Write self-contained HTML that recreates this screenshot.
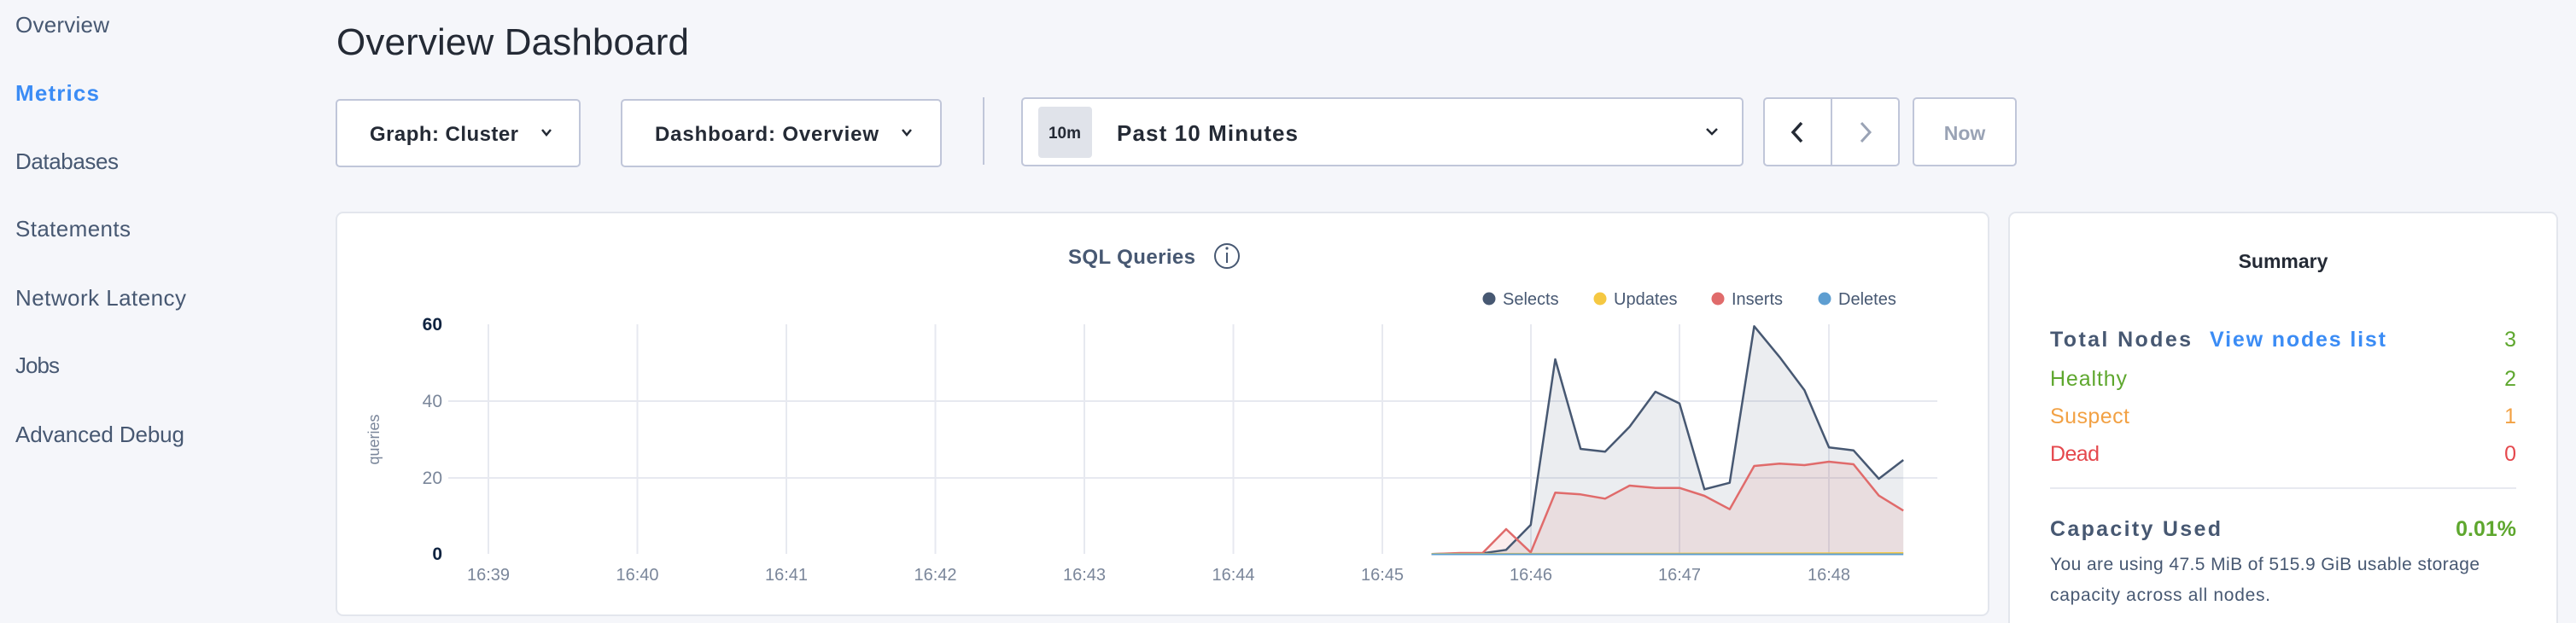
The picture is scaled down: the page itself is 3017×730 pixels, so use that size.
<!DOCTYPE html>
<html><head><meta charset="utf-8"><style>
html,body{margin:0;padding:0;background:#f5f6fa;}
svg{display:block;font-family:"Liberation Sans",sans-serif;}
</style></head><body>
<svg width="3017" height="730" viewBox="0 0 3017 730" xmlns="http://www.w3.org/2000/svg">
<rect width="3017" height="730" fill="#f5f6fa"/>
<g font-size="26" fill="#475872">
<text x="18" y="38" textLength="110">Overview</text>
<text x="18" y="118" font-weight="bold" fill="#3b8cf5" textLength="98">Metrics</text>
<text x="18" y="198" textLength="121">Databases</text>
<text x="18" y="277" textLength="135">Statements</text>
<text x="18" y="358" textLength="200">Network Latency</text>
<text x="18" y="437" textLength="52">Jobs</text>
<text x="18" y="518" textLength="198">Advanced Debug</text>
</g>
<text x="394" y="64" font-size="44" fill="#242a35" textLength="413">Overview Dashboard</text>
<g fill="#fff" stroke="#c0c6d9" stroke-width="2">
<rect x="394" y="117" width="285" height="78" rx="4"/>
<rect x="728" y="117" width="374" height="78" rx="4"/>
<rect x="1197" y="115" width="844" height="79" rx="4"/>
<rect x="2066" y="115" width="158" height="79" rx="4"/>
<rect x="2241" y="115" width="120" height="79" rx="4"/>
</g>
<line x1="1152" y1="114" x2="1152" y2="193" stroke="#c0c6d9" stroke-width="2"/>
<line x1="2145" y1="115" x2="2145" y2="194" stroke="#c0c6d9" stroke-width="2"/>
<g font-size="24" font-weight="bold" fill="#242a35">
<text x="433" y="165" textLength="174">Graph: Cluster</text>
<text x="767" y="165" textLength="262">Dashboard: Overview</text>
<text x="1308" y="165" font-size="26" textLength="212">Past 10 Minutes</text>
</g>
<g fill="none" stroke="#242a35" stroke-width="2.5">
<polyline points="635,152 640,158 645,152"/>
<polyline points="1057,152 1062,158 1067,152"/>
<polyline points="1999,151 2005,157 2011,151"/>
<polyline points="2110,144 2100,155 2110,166" stroke-width="3.5"/>
<polyline points="2180,144 2190,155 2180,166" stroke="#9aa3b5" stroke-width="3"/>
</g>
<rect x="1216" y="125" width="63" height="60" rx="4" fill="#e0e3ea"/>
<text x="1247" y="162" font-size="19" font-weight="bold" fill="#242a35" text-anchor="middle">10m</text>
<text x="2301" y="164" font-size="23" font-weight="bold" fill="#9aa3b5" text-anchor="middle">Now</text>
<rect x="394" y="249" width="1935" height="472" rx="8" fill="#fff" stroke="#e3e6ed" stroke-width="2"/>
<text x="1251" y="309" font-size="24" font-weight="bold" fill="#475872" textLength="149">SQL Queries</text>
<circle cx="1437" cy="300" r="14" fill="none" stroke="#475872" stroke-width="2"/>
<line x1="1437" y1="296" x2="1437" y2="308" stroke="#475872" stroke-width="2"/>
<circle cx="1437" cy="291" r="1.6" fill="#475872"/>
<g font-size="20" fill="#475872">
<circle cx="1744" cy="350" r="7.5" fill="#475872"/><text x="1760" y="357">Selects</text>
<circle cx="1874" cy="350" r="7.5" fill="#f5c842"/><text x="1890" y="357">Updates</text>
<circle cx="2012" cy="350" r="7.5" fill="#e06b6b"/><text x="2028" y="357">Inserts</text>
<circle cx="2137" cy="350" r="7.5" fill="#5e9ed1"/><text x="2153" y="357">Deletes</text>
</g>
<g stroke="#e7e9f0" stroke-width="2">
<line x1="525" y1="470" x2="2269" y2="470"/>
<line x1="525" y1="560" x2="2269" y2="560"/>
<line x1="572" y1="380" x2="572" y2="649"/>
<line x1="746.5" y1="380" x2="746.5" y2="649"/>
<line x1="921" y1="380" x2="921" y2="649"/>
<line x1="1095.5" y1="380" x2="1095.5" y2="649"/>
<line x1="1270" y1="380" x2="1270" y2="649"/>
<line x1="1444.5" y1="380" x2="1444.5" y2="649"/>
<line x1="1619" y1="380" x2="1619" y2="649"/>
<line x1="1793" y1="380" x2="1793" y2="649"/>
<line x1="1967" y1="380" x2="1967" y2="649"/>
<line x1="2142" y1="380" x2="2142" y2="649"/>
</g>
<g font-size="21" text-anchor="end">
<text x="518" y="387" fill="#0f2340" font-weight="bold">60</text>
<text x="518" y="477" fill="#7a869a">40</text>
<text x="518" y="567" fill="#7a869a">20</text>
<text x="518" y="656" fill="#0f2340" font-weight="bold">0</text>
</g>
<text transform="translate(444,515) rotate(-90)" font-size="18" fill="#7a869a" text-anchor="middle">queries</text>
<g font-size="20" fill="#7a869a" text-anchor="middle">
<text x="572" y="680">16:39</text><text x="746.5" y="680">16:40</text><text x="921" y="680">16:41</text>
<text x="1095.5" y="680">16:42</text><text x="1270" y="680">16:43</text><text x="1444.5" y="680">16:44</text>
<text x="1619" y="680">16:45</text><text x="1793" y="680">16:46</text><text x="1967" y="680">16:47</text><text x="2142" y="680">16:48</text>
</g>
<polygon fill="rgba(71,88,114,0.11)" points="1676.6,649.3 1736.4,648.3 1764,644.3 1792.8,615 1821.5,421 1851.2,526 1879.9,529.3 1908.6,500 1938.8,459 1967,472.7 1996.2,573.3 2025.8,565.7 2054.5,382.3 2084.2,418.3 2113.4,457.3 2142.1,524.3 2170.8,527.7 2200.5,561 2229.2,539 2229.2,649.3"/>
<polygon fill="rgba(224,107,107,0.12)" points="1676.6,649.3 1710,648 1736.4,648 1764,620 1792.8,647.3 1821.5,577.3 1851.2,579.3 1879.9,584.3 1908.6,569 1938.8,571.7 1967,571.7 1996.2,581 2025.8,596.7 2054.5,546 2084.2,543.3 2113.4,545 2142.1,541 2170.8,544 2200.5,580.7 2229.2,598.3 2229.2,649.3"/>
<polyline fill="none" stroke="#475872" stroke-width="2.5" stroke-linejoin="round" points="1676.6,649.3 1736.4,648.3 1764,644.3 1792.8,615 1821.5,421 1851.2,526 1879.9,529.3 1908.6,500 1938.8,459 1967,472.7 1996.2,573.3 2025.8,565.7 2054.5,382.3 2084.2,418.3 2113.4,457.3 2142.1,524.3 2170.8,527.7 2200.5,561 2229.2,539"/>
<polyline fill="none" stroke="#e06b6b" stroke-width="2.5" stroke-linejoin="round" points="1676.6,649.3 1710,648 1736.4,648 1764,620 1792.8,647.3 1821.5,577.3 1851.2,579.3 1879.9,584.3 1908.6,569 1938.8,571.7 1967,571.7 1996.2,581 2025.8,596.7 2054.5,546 2084.2,543.3 2113.4,545 2142.1,541 2170.8,544 2200.5,580.7 2229.2,598.3"/>
<polyline fill="none" stroke="#f5c842" stroke-width="2" points="1676.6,649 2054,648.5 2229.2,648"/>
<line x1="1676.6" y1="649.5" x2="2229.2" y2="649.5" stroke="#5e9ed1" stroke-width="2"/>
<rect x="2353" y="249" width="642" height="500" rx="8" fill="#fff" stroke="#e3e6ed" stroke-width="2"/>
<text x="2674" y="314" font-size="23" font-weight="bold" fill="#242a35" text-anchor="middle">Summary</text>
<text x="2401" y="406" font-size="25" font-weight="bold" fill="#475872" textLength="165">Total Nodes</text>
<text x="2588" y="406" font-size="25" font-weight="bold" fill="#3b8cf5" textLength="206">View nodes list</text>
<text x="2947" y="406" font-size="25" fill="#5ea72e" text-anchor="end">3</text>
<text x="2401" y="452" font-size="25" fill="#5ea72e" textLength="90">Healthy</text>
<text x="2947" y="452" font-size="25" fill="#5ea72e" text-anchor="end">2</text>
<text x="2401" y="496" font-size="25" fill="#f2a144" textLength="93">Suspect</text>
<text x="2947" y="496" font-size="25" fill="#f2a144" text-anchor="end">1</text>
<text x="2401" y="540" font-size="25" fill="#e5484d" textLength="58">Dead</text>
<text x="2947" y="540" font-size="25" fill="#e5484d" text-anchor="end">0</text>
<line x1="2401" y1="572" x2="2947" y2="572" stroke="#e7e9f0" stroke-width="2"/>
<text x="2401" y="628" font-size="25" font-weight="bold" fill="#475872" textLength="200">Capacity Used</text>
<text x="2947" y="628" font-size="25" font-weight="bold" fill="#5ea72e" text-anchor="end">0.01%</text>
<text x="2401" y="668" font-size="21" fill="#475872" textLength="503">You are using 47.5 MiB of 515.9 GiB usable storage</text>
<text x="2401" y="704" font-size="21" fill="#475872" textLength="258">capacity across all nodes.</text>
</svg>
</body></html>
